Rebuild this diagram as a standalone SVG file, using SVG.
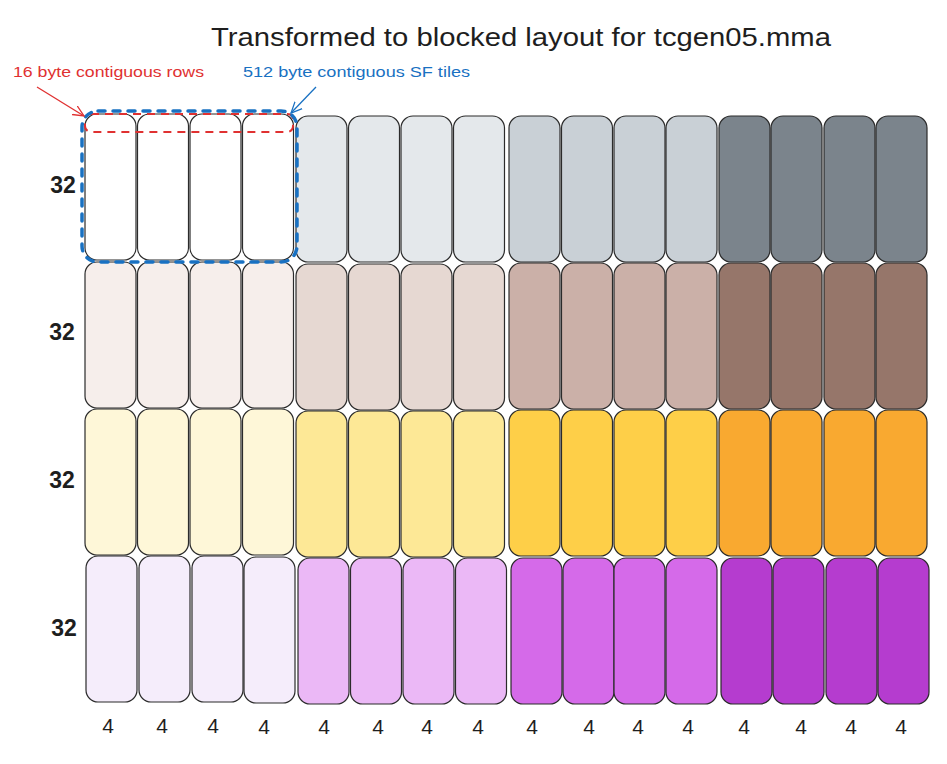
<svg xmlns="http://www.w3.org/2000/svg" width="947" height="764" viewBox="0 0 947 764">
<style>
.c{stroke:#2b2b2b;stroke-width:1.2}
.a1{fill:#ffffff}.a2{fill:#e4e8eb}.a3{fill:#c9d0d6}.a4{fill:#7b848c}
.b1{fill:#f6eeeb}.b2{fill:#e6d8d2}.b3{fill:#cbb0a8}.b4{fill:#96766a}
.y1{fill:#fef7d8}.y2{fill:#fde896}.y3{fill:#fecf48}.y4{fill:#f9a930}
.p1{fill:#f5edfb}.p2{fill:#ebb8f6}.p3{fill:#d56ae9}.p4{fill:#b53ccf}
.t{font-family:"Liberation Sans","DejaVu Sans",sans-serif;fill:#1e1e1e}
.lbl{font-size:23px;font-weight:bold;text-anchor:middle}
.four{font-size:21px;text-anchor:middle}
</style>
<defs>
<rect id="cell" width="51" height="146" rx="12"/>
<marker id="ahr" viewBox="0 0 12 12" refX="11" refY="6" markerWidth="12" markerHeight="12" markerUnits="userSpaceOnUse" orient="auto"><path d="M0,1 L11,6 L0,11" fill="none" stroke="#e03131" stroke-width="1.3"/></marker>
<marker id="ahb" viewBox="0 0 12 12" refX="11" refY="6" markerWidth="12" markerHeight="12" markerUnits="userSpaceOnUse" orient="auto"><path d="M0,1 L11,6 L0,11" fill="none" stroke="#1971c2" stroke-width="1.3"/></marker>
</defs>
<rect width="947" height="764" fill="#ffffff"/>
<text class="t" x="521" y="46" font-size="26" text-anchor="middle" textLength="620" lengthAdjust="spacingAndGlyphs">Transformed to blocked layout for tcgen05.mma</text>

<g id="row1">
<g id="r1c1"><use href="#cell" x="85" y="114" class="c a1"/></g>
<g id="r1c2"><use href="#cell" x="137.5" y="114" class="c a1"/></g>
<g id="r1c3"><use href="#cell" x="190" y="114" class="c a1"/></g>
<g id="r1c4"><use href="#cell" x="242.5" y="114" class="c a1"/></g>
<g id="r1c5"><use href="#cell" x="296" y="116" class="c a2"/></g>
<g id="r1c6"><use href="#cell" x="348.5" y="116" class="c a2"/></g>
<g id="r1c7"><use href="#cell" x="401" y="116" class="c a2"/></g>
<g id="r1c8"><use href="#cell" x="453.5" y="116" class="c a2"/></g>
<g id="r1c9"><use href="#cell" x="509" y="116" class="c a3"/></g>
<g id="r1c10"><use href="#cell" x="561.5" y="116" class="c a3"/></g>
<g id="r1c11"><use href="#cell" x="614" y="116" class="c a3"/></g>
<g id="r1c12"><use href="#cell" x="666" y="116" class="c a3"/></g>
<g id="r1c13"><use href="#cell" x="719" y="116" class="c a4"/></g>
<g id="r1c14"><use href="#cell" x="771" y="116" class="c a4"/></g>
<g id="r1c15"><use href="#cell" x="824" y="116" class="c a4"/></g>
<g id="r1c16"><use href="#cell" x="876" y="116" class="c a4"/></g>
</g>
<g id="row2">
<g id="r2c1"><use href="#cell" x="85" y="262" class="c b1"/></g>
<g id="r2c2"><use href="#cell" x="137.5" y="262" class="c b1"/></g>
<g id="r2c3"><use href="#cell" x="190" y="262" class="c b1"/></g>
<g id="r2c4"><use href="#cell" x="242.5" y="262" class="c b1"/></g>
<g id="r2c5"><use href="#cell" x="296" y="264" class="c b2"/></g>
<g id="r2c6"><use href="#cell" x="348.5" y="264" class="c b2"/></g>
<g id="r2c7"><use href="#cell" x="401" y="264" class="c b2"/></g>
<g id="r2c8"><use href="#cell" x="453.5" y="264" class="c b2"/></g>
<g id="r2c9"><use href="#cell" x="509" y="263" class="c b3"/></g>
<g id="r2c10"><use href="#cell" x="561.5" y="263" class="c b3"/></g>
<g id="r2c11"><use href="#cell" x="614" y="263" class="c b3"/></g>
<g id="r2c12"><use href="#cell" x="666" y="263" class="c b3"/></g>
<g id="r2c13"><use href="#cell" x="719" y="263" class="c b4"/></g>
<g id="r2c14"><use href="#cell" x="771" y="263" class="c b4"/></g>
<g id="r2c15"><use href="#cell" x="824" y="263" class="c b4"/></g>
<g id="r2c16"><use href="#cell" x="876" y="263" class="c b4"/></g>
</g>
<g id="row3">
<g id="r3c1"><use href="#cell" x="85" y="409" class="c y1"/></g>
<g id="r3c2"><use href="#cell" x="137.5" y="409" class="c y1"/></g>
<g id="r3c3"><use href="#cell" x="190" y="409" class="c y1"/></g>
<g id="r3c4"><use href="#cell" x="242.5" y="409" class="c y1"/></g>
<g id="r3c5"><use href="#cell" x="296" y="411" class="c y2"/></g>
<g id="r3c6"><use href="#cell" x="348.5" y="411" class="c y2"/></g>
<g id="r3c7"><use href="#cell" x="401" y="411" class="c y2"/></g>
<g id="r3c8"><use href="#cell" x="453.5" y="411" class="c y2"/></g>
<g id="r3c9"><use href="#cell" x="509" y="410" class="c y3"/></g>
<g id="r3c10"><use href="#cell" x="561.5" y="410" class="c y3"/></g>
<g id="r3c11"><use href="#cell" x="614" y="410" class="c y3"/></g>
<g id="r3c12"><use href="#cell" x="666" y="410" class="c y3"/></g>
<g id="r3c13"><use href="#cell" x="719" y="410" class="c y4"/></g>
<g id="r3c14"><use href="#cell" x="771" y="410" class="c y4"/></g>
<g id="r3c15"><use href="#cell" x="824" y="410" class="c y4"/></g>
<g id="r3c16"><use href="#cell" x="876" y="410" class="c y4"/></g>
</g>
<g id="row4">
<g id="r4c1"><use href="#cell" x="86" y="556" class="c p1"/></g>
<g id="r4c2"><use href="#cell" x="139" y="556" class="c p1"/></g>
<g id="r4c3"><use href="#cell" x="192" y="556" class="c p1"/></g>
<g id="r4c4"><use href="#cell" x="244" y="557" class="c p1"/></g>
<g id="r4c5"><use href="#cell" x="298" y="558" class="c p2"/></g>
<g id="r4c6"><use href="#cell" x="350.5" y="558" class="c p2"/></g>
<g id="r4c7"><use href="#cell" x="403" y="558" class="c p2"/></g>
<g id="r4c8"><use href="#cell" x="455.5" y="558" class="c p2"/></g>
<g id="r4c9"><use href="#cell" x="511" y="558" class="c p3"/></g>
<g id="r4c10"><use href="#cell" x="563" y="558" class="c p3"/></g>
<g id="r4c11"><use href="#cell" x="614" y="558" class="c p3"/></g>
<g id="r4c12"><use href="#cell" x="666" y="558" class="c p3"/></g>
<g id="r4c13"><use href="#cell" x="721" y="558" class="c p4"/></g>
<g id="r4c14"><use href="#cell" x="773" y="558" class="c p4"/></g>
<g id="r4c15"><use href="#cell" x="826" y="558" class="c p4"/></g>
<g id="r4c16"><use href="#cell" x="878" y="558" class="c p4"/></g>
</g>

<g id="row-labels">
<text class="t lbl" x="63" y="193">32</text>
<text class="t lbl" x="62" y="340">32</text>
<text class="t lbl" x="62" y="488">32</text>
<text class="t lbl" x="64" y="636">32</text>
</g>
<g id="col-labels">
<text class="t four" x="108" y="733">4</text>
<text class="t four" x="162" y="733">4</text>
<text class="t four" x="213" y="733">4</text>
<text class="t four" x="264" y="734">4</text>
<text class="t four" x="324" y="734">4</text>
<text class="t four" x="378" y="734">4</text>
<text class="t four" x="427" y="734">4</text>
<text class="t four" x="478" y="734">4</text>
<text class="t four" x="532" y="734">4</text>
<text class="t four" x="589" y="734">4</text>
<text class="t four" x="638" y="734">4</text>
<text class="t four" x="688" y="734">4</text>
<text class="t four" x="744" y="734">4</text>
<text class="t four" x="801" y="734">4</text>
<text class="t four" x="851" y="734">4</text>
<text class="t four" x="901" y="734">4</text>
</g>

<g id="highlight-rows">
<rect x="85" y="114" width="208" height="18" rx="6" fill="none" stroke="#e03131" stroke-width="2" stroke-dasharray="8 6"/>
</g>
<g id="highlight-tiles">
<rect x="82" y="111" width="215" height="151" rx="16" fill="none" stroke="#1971c2" stroke-width="3.5" stroke-linecap="round" stroke-dasharray="7 8"/>
</g>
<g id="annotation-labels">
<text class="t" x="13" y="77" font-size="14" style="fill:#e03131" textLength="191" lengthAdjust="spacingAndGlyphs">16 byte contiguous rows</text>
<text class="t" x="243" y="77" font-size="14" style="fill:#1971c2" textLength="227" lengthAdjust="spacingAndGlyphs">512 byte contiguous SF tiles</text>
</g>
<g id="connectors">
<path d="M37,87 L84,116" fill="none" stroke="#e03131" stroke-width="1.3" marker-end="url(#ahr)"/>
<path d="M316,87 L291,113" fill="none" stroke="#1971c2" stroke-width="1.3" marker-end="url(#ahb)"/>
</g>
</svg>
